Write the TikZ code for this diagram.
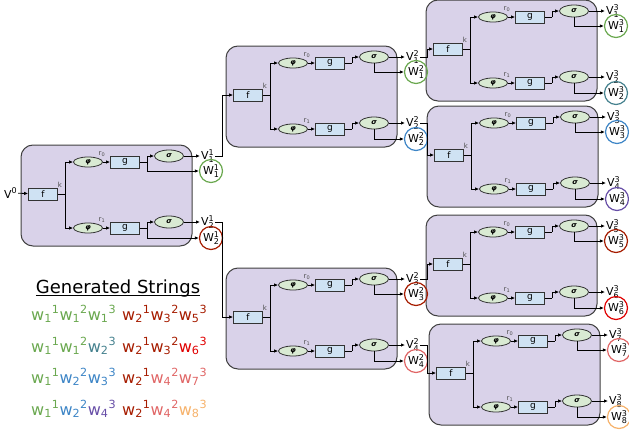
\documentclass[tikz,border=0pt]{standalone}
\usepackage{fontspec}
\setmainfont{DejaVu Sans}
\usetikzlibrary{arrows.meta,shapes.geometric}

\definecolor{cellfill}{HTML}{D9D2E9}
\definecolor{boxfill}{HTML}{CFE2F3}
\definecolor{ellfill}{HTML}{D9EAD3}
\definecolor{wgreen}{HTML}{6AA84F}
\definecolor{wdred}{HTML}{A61C00}
\definecolor{wblue}{HTML}{3D85C6}
\definecolor{wteal}{HTML}{45818E}
\definecolor{wpurple}{HTML}{674EA7}
\definecolor{wred}{HTML}{E00000}
\definecolor{wlred}{HTML}{E06666}
\definecolor{worange}{HTML}{F6B26B}

\newcommand\scr[1]{{\fontsize{8}{8}\selectfont #1}}
\newcommand\vw[3]{#1\rlap{\raisebox{4.5pt}{\scr{#3}}}\raisebox{-2.5pt}{\scr{#2}}}
\newcommand\ws[3]{\textcolor{#1}{w\textsubscript{#2}\textsuperscript{#3}}}
\newcommand\phisym{\textbf{\textit{φ}}}
\newcommand\sigsym{\textbf{\textit{σ}}}
\newcommand\ulined[1]{{\setbox0\hbox{#1}\rlap{\rule[-3pt]{\wd0}{1.5pt}}\box0}}

\tikzset{
	cellbox/.style={draw=black!75, line width=1pt, fill=cellfill, rounded corners=12pt},
	fbox/.style={draw=black!80, line width=0.8pt, fill=boxfill, minimum width=29pt, minimum height=12pt, inner sep=0pt, font=\fontsize{9}{9}\selectfont},
	phinode/.style={ellipse, draw=black!80, line width=0.8pt, fill=ellfill, minimum width=29pt, minimum height=10pt, inner sep=0pt, font=\fontsize{7}{7}\selectfont},
	signode/.style={phinode, minimum height=12pt},
	tag/.style={inner sep=0pt, text=black!70, font=\fontsize{7}{7}\selectfont},
	vlab/.style={inner sep=1pt, anchor=west, font=\fontsize{11}{11}\selectfont},
	wcirc/.style={circle, draw, line width=1.2pt, minimum size=23pt, inner sep=0pt, font=\fontsize{11}{11}\selectfont},
	wire/.style={line width=0.8pt},
	arr/.style={wire, -{Latex[length=4pt,width=3.5pt]}},
	legend/.style={anchor=base west, inner sep=0pt, font=\fontsize{16}{16}\selectfont},
}

% #1 name, #2 #3 centre of f, #4 level, #5 #6 indices, #7 #8 colours, #9 tap of W (s or j)
\def\drawcell#1#2#3#4#5#6#7#8#9{%
	\draw[cellbox] ({#2-22},{#3-49}) rectangle ({#2+149},{#3+52});
	\node[fbox] (#1f) at (#2,#3) {f};
	\coordinate (#1k) at ({#2+22},#3);
	\node[tag] (#1kl) at ({#2+17},{#3-9}) {k};
	\node[phinode] (#1p0) at ({#2+45},{#3-32}) {\phisym};
	\node[phinode] (#1p1) at ({#2+45},{#3+34}) {\phisym};
	\node[tag] (#1r0) at ({#2+59},{#3-40}) {r\textsubscript{0}};
	\node[tag] (#1r1) at ({#2+59},{#3+26}) {r\textsubscript{1}};
	\node[fbox] (#1g0) at ({#2+82},{#3-32}) {g};
	\node[fbox] (#1g1) at ({#2+82},{#3+34}) {g};
	\coordinate (#1j0) at ({#2+104},{#3-32});
	\coordinate (#1j1) at ({#2+104},{#3+34});
	\node[signode] (#1s0) at ({#2+126},{#3-38}) {\sigsym};
	\node[signode] (#1s1) at ({#2+126},{#3+28}) {\sigsym};
	\node[vlab] (#1v0) at ({#2+157},{#3-38}) {\vw{V}{#5}{#4}};
	\node[vlab] (#1v1) at ({#2+157},{#3+28}) {\vw{V}{#6}{#4}};
	\node[wcirc, draw=#7] (#1w0) at ({#2+168},{#3-23}) {\vw{W}{#5}{#4}};
	\node[wcirc, draw=#8] (#1w1) at ({#2+168},{#3+44}) {\vw{W}{#6}{#4}};
	\draw[wire] (#1f) -- (#1k);
	\draw[arr] (#1k) |- (#1p0);
	\draw[arr] (#1k) |- (#1p1);
	\draw[arr] (#1p0) -- (#1g0);
	\draw[arr] (#1p1) -- (#1g1);
	\draw[wire] (#1g0) -- (#1j0);
	\draw[wire] (#1g1) -- (#1j1);
	\draw[arr] (#1j0) |- (#1s0);
	\draw[arr] (#1j1) |- (#1s1);
	\draw[arr] (#1s0) -- (#1v0);
	\draw[arr] (#1s1) -- (#1v1);
	\draw[arr] (#1#90) |- (#1w0);
	\draw[arr] (#1#91) |- (#1w1);
}

\begin{document}
\begin{tikzpicture}[x=1pt,y=-1pt]
	%%%%% START %%%%%
	\useasboundingbox (0,0) rectangle (629,434);
	
	\drawcell{b3a}{448}{49}{3}{1}{2}{wgreen}{wteal}{s}
	\drawcell{b3b}{449}{155}{3}{3}{4}{wblue}{wpurple}{s}
	\drawcell{b3c}{448}{264}{3}{5}{6}{wdred}{wred}{s}
	\drawcell{b3d}{451}{373}{3}{7}{8}{wlred}{worange}{s}
	
	\drawcell{b2a}{248}{95}{2}{1}{2}{wgreen}{wblue}{s}
	\drawcell{b2b}{248}{317}{2}{3}{4}{wdred}{wlred}{s}
	
	\drawcell{b1}{43}{194}{1}{1}{2}{wgreen}{wdred}{j}
	
	\node[vlab] (vin) at (3,193) {V\raisebox{4.5pt}{\scr{0}}};
	\draw[arr] (vin) -- (b1f);
	
	\coordinate (col1) at (222,0);
	\coordinate (col2) at (427,0);
	\draw[arr] (b1v0) -| (col1 |- b2af) -- (b2af);
	\draw[arr] (b1v1) -| (col1 |- b2bf) -- (b2bf);
	\draw[arr] (b2av0) -| (col2 |- b3af) -- (b3af);
	\draw[arr] (b2av1) -| (col2 |- b3bf) -- (b3bf);
	\draw[arr] (b2bv0) -| (col2 |- b3cf) -- (b3cf);
	\draw[arr] (b2bv1) -| (col2 |- b3df) -- (b3df);
	
	\node[legend, anchor=base, font=\fontsize{18}{18}\selectfont] (title) at (118,293) {\ulined{Generated Strings}};
	\node[legend] (s1) at (31,320) {\ws{wgreen}{1}{1}\ws{wgreen}{1}{2}\ws{wgreen}{1}{3}};
	\node[legend] (s2) at (31,352) {\ws{wgreen}{1}{1}\ws{wgreen}{1}{2}\ws{wteal}{2}{3}};
	\node[legend] (s3) at (31,383) {\ws{wgreen}{1}{1}\ws{wblue}{2}{2}\ws{wblue}{3}{3}};
	\node[legend] (s4) at (31,415) {\ws{wgreen}{1}{1}\ws{wblue}{2}{2}\ws{wpurple}{4}{3}};
	\node[legend] (s5) at (122,320) {\ws{wdred}{2}{1}\ws{wdred}{3}{2}\ws{wdred}{5}{3}};
	\node[legend] (s6) at (122,352) {\ws{wdred}{2}{1}\ws{wdred}{3}{2}\ws{wred}{6}{3}};
	\node[legend] (s7) at (122,383) {\ws{wdred}{2}{1}\ws{wlred}{4}{2}\ws{wlred}{7}{3}};
	\node[legend] (s8) at (122,415) {\ws{wdred}{2}{1}\ws{wlred}{4}{2}\ws{worange}{8}{3}};
	
	%%%%% END %%%%%
\end{tikzpicture}
\end{document}
